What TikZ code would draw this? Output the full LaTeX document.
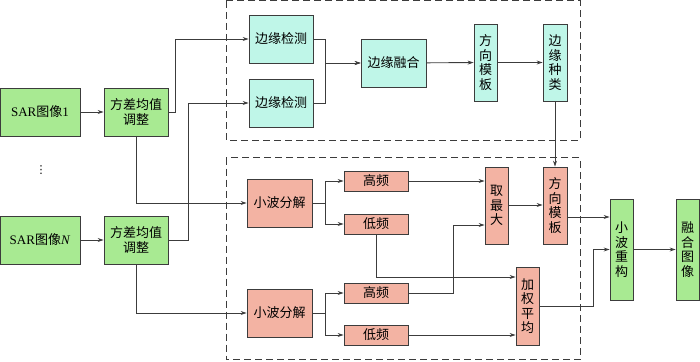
\documentclass[tikz,border=0pt]{standalone}
\usepackage{fontspec}
\setmainfont{Liberation Serif}
\newfontfamily\cjk{Noto Sans CJK SC}
\newfontfamily\dejavu{DejaVu Sans}
\usetikzlibrary{arrows.meta,calc}
\definecolor{gfill}{HTML}{A8EA92}
\definecolor{cfill}{HTML}{BFF6E8}
\definecolor{sfill}{HTML}{F3B3A3}
\definecolor{lcol}{HTML}{3C3C3C}
\begin{document}
\begin{tikzpicture}[x=1pt,y=-1pt,
  every node/.style={font=\cjk\fontsize{13}{14.5}\selectfont, align=center, inner sep=0pt},
  bx/.style={draw=lcol, line width=0.8pt, minimum width=#1},
  gbox/.style={bx=64pt, fill=gfill, minimum height=48pt},
  cbox/.style={bx=64pt, fill=cfill, minimum height=48pt},
  sbox/.style={bx=65pt, fill=sfill, minimum height=48pt},
  fbox/.style={bx=64pt, fill=sfill, minimum height=20pt},
  vbox/.style={draw=lcol, line width=0.8pt, minimum width=23pt, minimum height=77pt},
  arr/.style={draw=lcol, line width=0.9pt, -{Stealth[length=6pt,width=4pt]}},
  dbox/.style={draw=lcol, line width=1pt, dash pattern=on 7pt off 4pt}
]
\useasboundingbox (0,0) rectangle (700,361);
% dashed frames
\draw[dbox] (226,1) rectangle (580,140);
\draw[dbox] (226,157.5) rectangle (580,359.5);
% inputs
\node[gbox, minimum width=80pt] (sar1) at (40,112) {\rmfamily SAR{\cjk 图像}1};
\node[gbox, minimum width=80pt] (sarN) at (40,240) {\rmfamily SAR{\cjk 图像}\textit{N}};
\node[font=\dejavu\fontsize{11}{11}\selectfont] (dots) at (41,170) {⋮};
\node[gbox] (fc1) at (136,112) {方差均值\\调整};
\node[gbox] (fcN) at (136,240) {方差均值\\调整};
% top branch
\node[cbox] (ed1) at (281,39) {边缘检测};
\node[cbox] (ed2) at (281,103) {边缘检测};
\node[cbox, minimum width=65pt] (ef) at (393.5,63) {边缘融合};
\node[vbox, fill=cfill] (dt1) at (485.5,62.5) {方\\向\\模\\板};
\node[vbox, fill=cfill, minimum width=24pt] (ek) at (555,62.5) {边\\缘\\种\\类};
% bottom branch
\node[sbox] (wd1) at (279.5,203) {小波分解};
\node[sbox] (wd2) at (279.5,313) {小波分解};
\node[fbox] (hf1) at (376,181) {高频};
\node[fbox] (lf1) at (376,224) {低频};
\node[fbox] (hf2) at (376,293) {高频};
\node[fbox] (lf2) at (376,335) {低频};
\node[vbox, fill=sfill] (qm) at (496.5,205.5) {取\\最\\大};
\node[vbox, fill=sfill, minimum width=24pt] (dt2) at (555,205.5) {方\\向\\模\\板};
\node[vbox, fill=sfill, minimum height=78pt] (jq) at (527.5,306) {加\\权\\平\\均};
\node[vbox, fill=gfill, minimum height=101pt] (wr) at (621.5,249.5) {小\\波\\重\\构};
\node[vbox, fill=gfill, minimum height=101pt] (fi) at (687.5,249.5) {融\\合\\图\\像};
% connectors
\draw[arr] (sar1) -- (fc1);
\draw[arr] (sarN) -- (fcN);
\draw[arr] (fc1.east) -- ++(7,0) |- (ed1.west);
\draw[arr] (fcN.east) -- ++(20,0) |- (ed2.west);
\draw[arr] (fc1.south) |- (wd1.west);
\draw[arr] (fcN.south) |- (wd2.west);
\draw[arr] (ed1.east) -- ++(12,0) |- (ef.west);
\draw[arr] (ed2.east) -- ++(12,0) |- (ef.west);
\draw[arr] (ef) -- (dt1);
\draw[arr] (dt1) -- (ek);
\draw[arr] (ek.south) -- (dt2.north);
\draw[arr] (wd1.east) -- ++(13,0) |- (hf1.west);
\draw[arr] (wd1.east) -- ++(13,0) |- (lf1.west);
\draw[arr] (wd2.east) -- ++(13,0) |- (hf2.west);
\draw[arr] (wd2.east) -- ++(13,0) |- (lf2.west);
\draw[arr] (hf1.east) -- (hf1.east -| qm.west);
\draw[arr] (hf2.east) -- ++(45,0) |- ($(qm.west)+(0,19.5)$);
\draw[arr] ($(qm.east)+(0,-0.5)$) -- ($(dt2.west)+(0,-0.5)$);
\draw[arr] (lf1.south) |- ($(jq.west)+(0,-29)$);
\draw[arr] (lf2.east) -- (lf2.east -| jq.west);
\draw[arr] ($(dt2.east)+(0,11.5)$) -- ($(wr.west)+(0,-32.5)$);
\draw[arr] (jq.east) -- ++(54,0) |- (wr.west);
\draw[arr] (wr) -- (fi);
\end{tikzpicture}
\end{document}
